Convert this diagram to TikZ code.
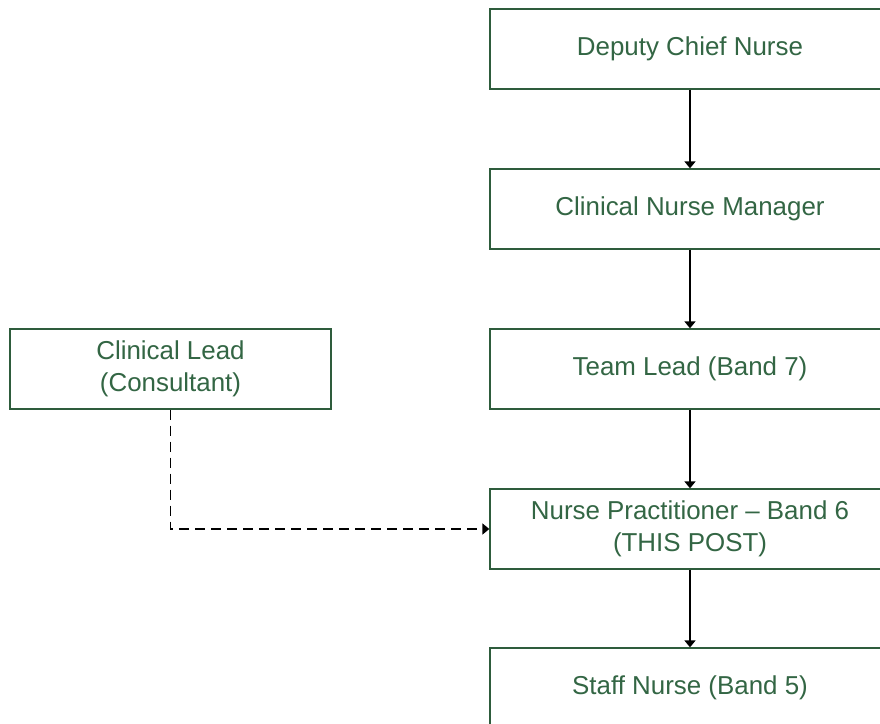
\documentclass[tikz,border=0pt]{standalone}
\usepackage{fontspec}
\setmainfont{Liberation Sans}
\usetikzlibrary{arrows.meta}
\definecolor{boxgreen}{HTML}{2E5C3C}
\definecolor{textgreen}{HTML}{336644}
\tikzset{
  post/.style={draw=boxgreen, line width=1.3bp, fill=white, minimum height=80bp,
    inner sep=0pt, align=center, text=textgreen, font=\fontsize{26}{32}\selectfont},
  mainpost/.style={post, minimum width=400bp},
  sidepost/.style={post, minimum width=321bp},
  report/.style={draw=black, line width=1.6bp, -{Triangle[width=11bp,length=7bp]}},
  advise/.style={report, dash pattern=on 10bp off 6bp}
}
\begin{document}
\begin{tikzpicture}[x=1bp,y=-1bp]
  \useasboundingbox (0,0) rectangle (880,724);
  \clip (0,0) rectangle (880,724);
  \node[mainpost] (dcn) at (690,49) {Deputy Chief Nurse};
  \node[mainpost] (cnm) at (690,209) {Clinical Nurse Manager};
  \node[mainpost] (tl)  at (690,369) {Team Lead (Band 7)};
  \node[mainpost] (np)  at (690,529) {Nurse Practitioner -- Band 6\\(THIS POST)};
  \node[mainpost] (sn)  at (690,688) {Staff Nurse (Band 5)};
  \node[sidepost] (cl)  at (170.5,369) {Clinical Lead\\(Consultant)};
  \coordinate (bend) at (cl.south |- np.west);
  \draw[report] (dcn) -- (cnm);
  \draw[report] (cnm) -- (tl);
  \draw[report] (tl) -- (np);
  \draw[report] (np) -- (sn);
  \draw[advise] (cl.south) -- (bend) -- (np.west);
\end{tikzpicture}
\end{document}
